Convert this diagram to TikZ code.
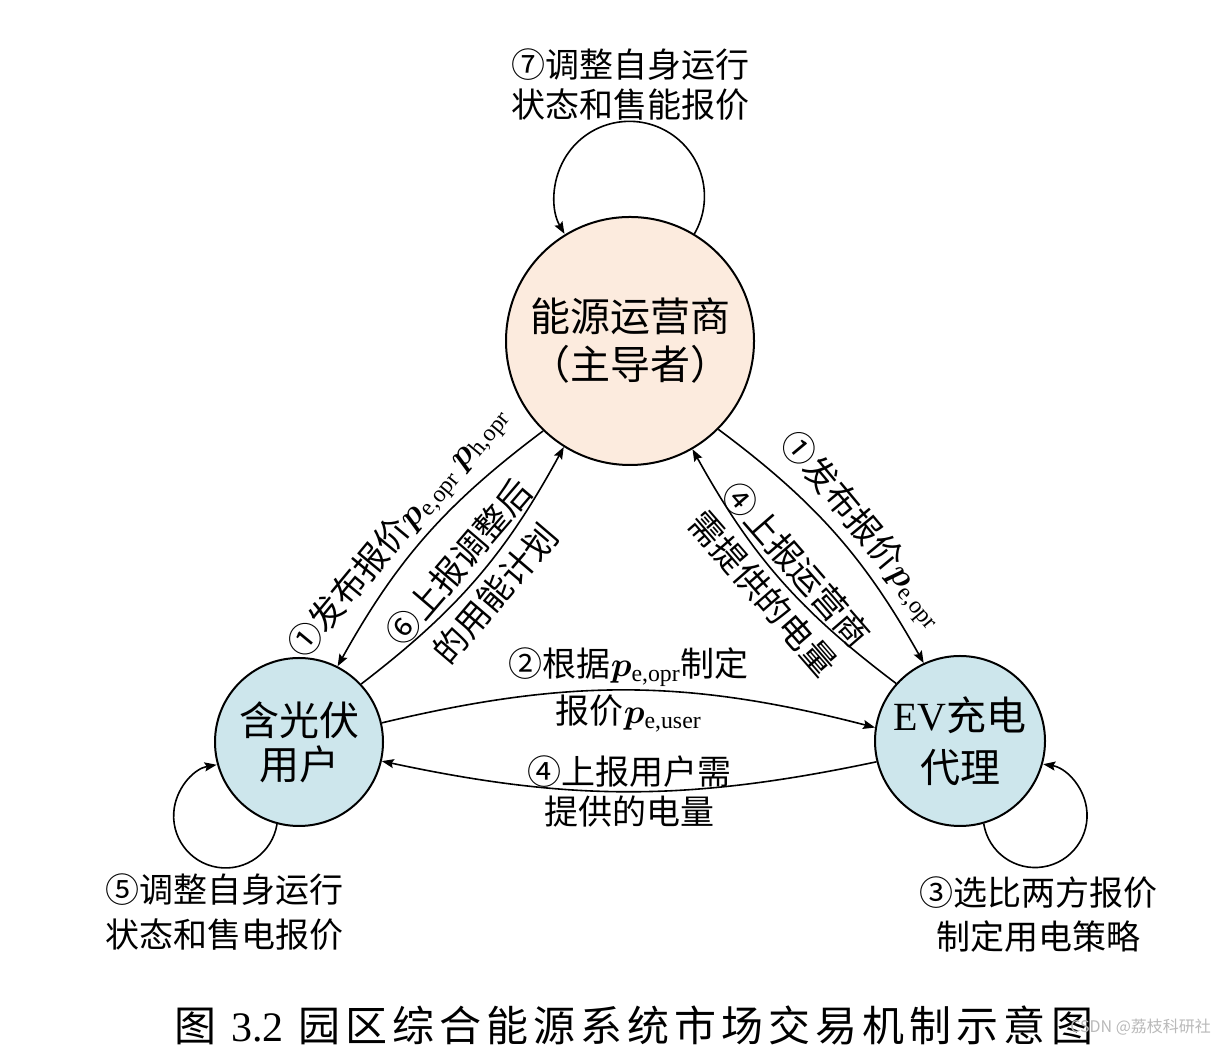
\documentclass[tikz,border=0pt]{standalone}
\usepackage{amsmath}
\usepackage{fontspec}
\usepackage{bm}
\setmainfont{Noto Sans CJK SC}
\newfontfamily\tnr{Liberation Serif}
\newcommand{\tsub}[1]{\text{\tnr #1}}
\usetikzlibrary{arrows.meta}
\definecolor{peach}{RGB}{252,235,222}
\definecolor{lblue}{RGB}{205,230,236}
\begin{document}
\begin{tikzpicture}[x=0.5pt,y=0.5pt,
  actor/.style={circle, draw=black, line width=1pt, inner sep=0pt, align=center},
  conn/.style={line width=0.8pt, -{Stealth[length=6pt,width=4.5pt,inset=1pt]}},
  lbl/.style={align=center, inner sep=1.5pt},
]
\useasboundingbox (0,0) rectangle (1230,1053);
% actors
\node[actor, fill=peach, minimum size=124pt, font=\fontsize{20}{24}\selectfont] (op) at (630,712) {能源运营商\\（主导者）};
\node[actor, fill=lblue, minimum size=84pt, font=\fontsize{20}{22}\selectfont] (user) at (299,311) {含光伏\\用户};
\node[actor, fill=lblue, minimum size=85pt, font=\fontsize{20}{26}\selectfont] (ev) at (960,312) {{\tnr EV}充电\\代理};
% connectors between actors
\draw[conn] (op.226) to[bend right=12] node[lbl, sloped, above, pos=0.55, font=\fontsize{17}{21}\selectfont] {①发布报价$\bm{p}_{\tsub{e,opr}}$ $\bm{p}_{\tsub{h,opr}}$} (user.63);
\draw[conn] (user.43) to[bend right=12] node[lbl, sloped, font=\fontsize{17}{24}\selectfont] {⑥上报调整后\\的用能计划} (op.238);
\draw[conn] (op.315) to[bend left=12] node[lbl, sloped, above, pos=0.55, font=\fontsize{17}{21}\selectfont] {①发布报价$\bm{p}_{\tsub{e,opr}}$} (ev.115);
\draw[conn] (ev.138) to[bend left=12] node[lbl, sloped, font=\fontsize{17}{22}\selectfont] {④上报运营商\\需提供的电量} (op.300);
\draw[conn] (user.13) to[bend left=14] node[lbl, font=\fontsize{17}{23.5}\selectfont] {②根据$\bm{p}_{\tsub{e,opr}}$制定\\报价$\bm{p}_{\tsub{e,user}}$} (ev.171);
\draw[conn] (ev.194) to[bend left=12] node[lbl, font=\fontsize{17}{20}\selectfont] {④上报用户需\\提供的电量} (user.347);
% self loops
\draw[conn] (op.59) arc[start angle=-30, end angle=210, radius=75];
\draw[conn] (user.255) arc[start angle=-9, end angle=-260, radius=52];
\draw[conn] (ev.286) arc[start angle=189, end angle=441, radius=52];
% loop labels
\node[lbl, font=\fontsize{17}{20}\selectfont] (l7) at (630,968) {⑦调整自身运行\\状态和售能报价};
\node[lbl, font=\fontsize{17}{22.5}\selectfont] (l5) at (224,141) {⑤调整自身运行\\状态和售电报价};
\node[lbl, font=\fontsize{17}{22}\selectfont] (l3) at (1038,138) {③选比两方报价\\制定用电策略};
% caption
\node (cap) at (634,28) {\fontsize{21}{24}\selectfont\addfontfeature{LetterSpace=12}图 {\tnr 3.2} 园区综合能源系统市场交易机制示意图};
\node[text=gray!55, anchor=east, font=\fontsize{8}{10}\selectfont] (wm) at (1218,26) {CSDN @荔枝科研社};
\end{tikzpicture}
\end{document}
